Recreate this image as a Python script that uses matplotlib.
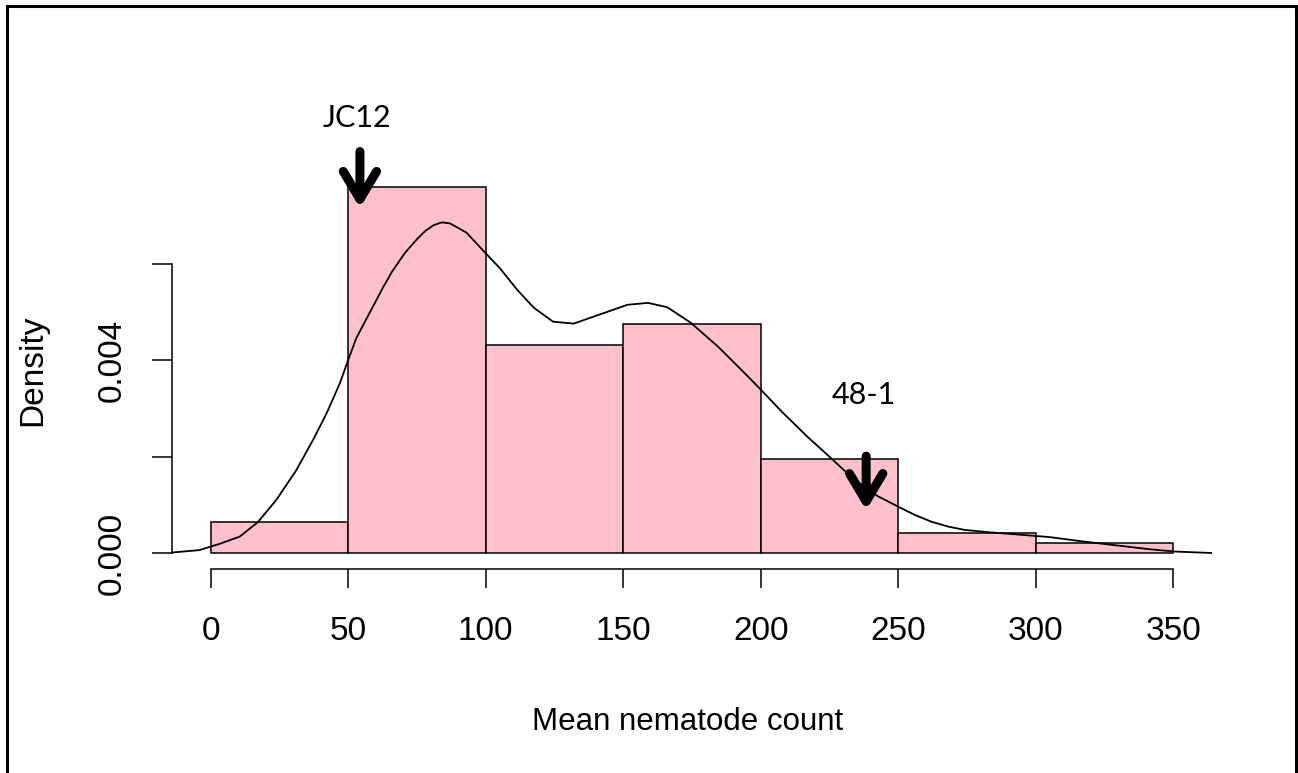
import numpy as np
import matplotlib.pyplot as plt
from matplotlib.patches import Rectangle

# histogram (density scale), bins of width 50
breaks = [0, 50, 100, 150, 200, 250, 300, 350]
dens = [0.00064, 0.0076, 0.00432, 0.00476, 0.00195, 0.000415, 0.000208]

# kernel density curve
kde_x = [-14, -4, 3.3, 10.6, 17.2, 23.9, 31.2, 37.3, 42.2, 47, 50, 53, 59, 62.8,
         66, 70.7, 75, 78, 81, 84, 87, 93, 99.5, 105, 111.5, 117.5, 124.5, 132,
         142, 151.5, 159, 166, 174.5, 184.5, 194, 200, 207.5, 217, 225.5, 234,
         242.5, 250, 256, 262, 268, 274, 283, 292, 305, 317, 329, 341, 350.5, 364]
kde_y = [0.00001, 0.00006, 0.00019, 0.00034, 0.00064, 0.0011, 0.00172, 0.00235,
         0.0029, 0.00352, 0.004, 0.00446, 0.00511, 0.00552, 0.00584, 0.00623,
         0.00651, 0.00668, 0.0068, 0.00686, 0.00684, 0.00665, 0.00625, 0.00592,
         0.00546, 0.00509, 0.00480, 0.00476, 0.00496, 0.00515, 0.00519, 0.00510,
         0.00478, 0.00428, 0.00374, 0.00339, 0.00294, 0.00241, 0.00197, 0.00152,
         0.00118, 0.00096, 0.00079, 0.00065, 0.00055, 0.00048, 0.00043, 0.00039,
         0.00033, 0.00024, 0.00016, 0.00008, 0.00003, 0.0]

# marked lines: label, x, arrow tail, arrow tip, label height
marks = [("JC12", 54.3, 0.00833, 0.00716, 0.00903),
         ("48-1", 238.3, 0.00201, 0.00089, 0.00328)]

xticks = [0, 50, 100, 150, 200, 250, 300, 350]
yticks = [0, 0.002, 0.004, 0.006]
ytick_labels = ["0.000", "", "0.004", ""]

plt.rcParams['font.family'] = ['Liberation Sans', 'DejaVu Sans']

fig = plt.figure(figsize=(12.98, 7.73), dpi=100)
ax = fig.add_axes([172 / 1298, 204 / 773, 1040 / 1298, 432 / 773])

ax.bar(breaks[:-1], dens, width=np.diff(breaks), align='edge',
       color='#FFC0CB', edgecolor='black', linewidth=1.1)
ax.plot(kde_x, kde_y, color='black', linewidth=1.3)

Y = 0.0083
ax.set_xlim(-14, 364)
ax.set_ylim(-0.04 * Y, 1.04 * Y)

for s in ['top', 'right']:
    ax.spines[s].set_visible(False)
ax.spines['bottom'].set_bounds(0, 350)
ax.spines['left'].set_bounds(0, 0.006)
for s in ['bottom', 'left']:
    ax.spines[s].set_linewidth(1.1)

ax.set_xticks(xticks)
ax.set_yticks(yticks)
ax.set_yticklabels(ytick_labels, rotation=90, va='center')
ax.tick_params(axis='x', length=14, width=1.1, labelsize=24, pad=19.5)
ax.tick_params(axis='y', length=14.4, width=1.1, labelsize=24, pad=17.5)

ax.set_xlabel('Mean nematode count', fontsize=22.5, va='center')
ax.xaxis.set_label_coords(0.496, -0.354)
ax.set_ylabel('Density', fontsize=24, va='center', ha='center')
ax.yaxis.set_label_coords(-0.1337, 0.4606)

for name, mx, tail, tip, ty in marks:
    ax.annotate('', xy=(mx, tip), xytext=(mx, tail),
                arrowprops=dict(arrowstyle='->,head_length=1.0,head_width=0.6',
                                lw=6.5, color='black', mutation_scale=20,
                                shrinkA=0, shrinkB=0))
    ax.text(mx - 1, ty, name, fontsize=22, family=['Lato', 'DejaVu Sans'],
            ha='center', va='center', clip_on=False)

# outer frame
fig.add_artist(Rectangle((7 / 1298, -4 / 773), 1289 / 1298, 771 / 773,
                         transform=fig.transFigure, fill=False,
                         edgecolor='black', linewidth=2.2))

fig.savefig('out.png', dpi=100)
